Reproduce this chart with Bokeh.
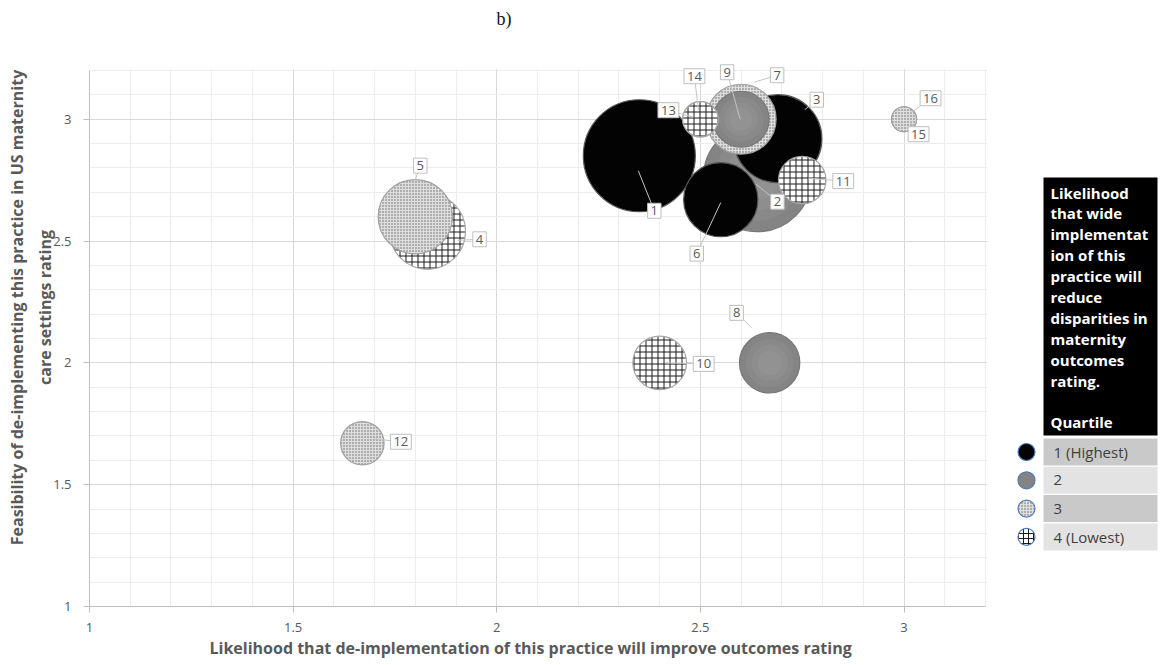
import numpy as np
from bokeh.plotting import figure
from bokeh.models import Range1d, FixedTicker, Label, ColumnDataSource, Title
from bokeh.embed import file_html
from bokeh.resources import INLINE
from bokeh.core.properties import value

# ---------------- data ----------------
practice_ids = [str(i) for i in range(1, 17)]
improve_rating = [2.35, 2.64, 2.69, 1.83, 1.80, 2.55, 2.60, 2.67, 2.60, 2.40, 2.75, 1.67, 2.50, 2.50, 3.00, 3.00]
feasibility_rating = [2.85, 2.76, 2.92, 2.54, 2.60, 2.67, 3.00, 2.00, 3.00, 2.00, 2.75, 1.67, 3.00, 3.00, 3.00, 3.00]
bubble_value = [100, 93, 62, 46, 44, 44, 39, 29, 25, 23, 18, 15, 10, 10, 5, 5]
disparity_quartile = [1, 2, 1, 4, 3, 1, 3, 2, 2, 4, 4, 3, 4, 4, 3, 3]
quartile_labels = ["1 (Highest)", "2", "3", "4 (Lowest)"]
x_ticks = [1, 1.5, 2, 2.5, 3]
x_tick_labels = ["1", "1.5", "2", "2.5", "3"]
y_ticks = [1, 1.5, 2, 2.5, 3]
y_tick_labels = ["1", "1.5", "2", "2.5", "3"]
legend_title_lines = ["Likelihood", "that wide", "implementat", "ion of this", "practice will",
                      "reduce", "disparities in", "maternity", "outcomes", "rating.", "", "Quartile"]
x_title = "Likelihood that de-implementation of this practice will improve outcomes rating"
y_title = "Feasibility of de-implementing this practice in US maternity\ncare settings rating"
panel_title = "b)"

# ---------------- layout / style ----------------
FONT = "Open Sans"
GREY_TXT = "#595959"
FIG_W, FIG_H = 1160, 662
LEFT = 89                 # page x of the plotting area's left edge
FRAME_TOP = 8             # page y where the (extended) frame starts
PLOT_TOP, PLOT_BOTTOM = 70, 606
X0, X1, Y0, Y1 = 1.0, 3.2, 1.0, 3.2
PPX = 896 / (X1 - X0)
PPY = (PLOT_BOTTOM - PLOT_TOP) / (Y1 - Y0)
XMAX = X0 + (FIG_W - LEFT) / PPX                 # frame continues under the legend panel
YMAX = Y1 + (PLOT_TOP - FRAME_TOP) / PPY         # and up into the caption zone
MAX_RADIUS_PX = 56


def page_x(px):
    return X0 + (px - LEFT) / PPX


def page_y(py):
    return Y1 - (py - PLOT_TOP) / PPY


# data-label placement in screen pixels (right / down) relative to bubble centre
label_dx = [15, 20, 39, 52, 5, -24, 36, -33, -14, 44, 41, 38.5, -32, -6, 14.5, 26.5]
label_dy = [55, 24, -39, 8, -51, 54, -44, -50, -47, 1, 1, -1.5, -9, -43, 15, -21]
lead_dx = [-1, -2, 27, 30, 0, 0, 13, -18, -1, 6, 6, 11.5, -7, -2, 6.5, 6.5]
lead_dy = [15, 6, -29, 9, -37, 3, -37, -35, 0, 0, -2, -4.5, -2, -9, 3, -6]

Q_STYLE = {
    1: dict(fill="#030303", hatch=" ", hcolor="#000000", hscale=6, line="#555555"),
    2: dict(fill="#848484", hatch=" ", hcolor="#000000", hscale=6, line="#777777"),
    3: dict(fill="#dedede", hatch="dot", hcolor="#666666", hscale=3, line="#a0a0a0"),
    4: dict(fill="#ffffff", hatch="cross", hcolor="#1a1a1a", hscale=6, line="#a6a6a6"),
}

p = figure(width=FIG_W, height=FIG_H, x_range=Range1d(X0, XMAX), y_range=Range1d(Y0, YMAX),
           output_backend="svg", toolbar_location=None,
           min_border_left=LEFT, min_border_right=0, min_border_top=FRAME_TOP,
           min_border_bottom=FIG_H - PLOT_BOTTOM)
p.outline_line_color = None
p.background_fill_color = "white"
p.border_fill_color = "white"

minor = [float(v) for v in np.round(np.arange(1.0, 3.2001, 0.1), 1)]
for ax, ticks, labels, bnd in ((p.xaxis[0], x_ticks, x_tick_labels, (X0, X1)),
                               (p.yaxis[0], y_ticks, y_tick_labels, (Y0, Y1))):
    ax.ticker = FixedTicker(ticks=ticks, minor_ticks=minor)
    ax.major_label_overrides = dict(zip(ticks, labels))
    ax.bounds = bnd
    ax.minor_tick_line_color = None
    ax.major_tick_in = 0
    ax.major_tick_out = 6
    ax.axis_line_color = "#bfbfbf"
    ax.major_tick_line_color = "#bfbfbf"
    ax.major_label_text_font = FONT
    ax.major_label_text_font_size = "13px"
    ax.major_label_text_color = GREY_TXT
    ax.axis_label_text_font = FONT
    ax.axis_label_text_font_size = "16px"
    ax.axis_label_text_font_style = "bold"
    ax.axis_label_text_color = GREY_TXT

p.xaxis.major_label_standoff = 10
p.yaxis.axis_label = y_title
p.yaxis.major_label_standoff = 12
p.yaxis.axis_label_standoff = -6
p.yaxis.axis_label_text_line_height = 1.3

p.add_layout(Title(text=x_title, align="left", offset=120, standoff=0,
                   text_font=FONT, text_font_size="16px", text_font_style="bold",
                   text_color=GREY_TXT), "below")

for g in (p.xgrid[0], p.ygrid[0]):
    g.grid_line_color = "#d9d9d9"
    g.minor_grid_line_color = "#ededed"

# white panels hiding the grid outside the plotting area (legend zone, caption zone)
p.quad(left=[X1 + 1.5 / PPX, X0], right=[XMAX, XMAX], bottom=[Y0, Y1 + 1.5 / PPY], top=[YMAX, YMAX],
       fill_color="white", line_color=None)

# panel caption
p.text(x=[page_x(496)], y=[page_y(18)], text=[panel_title], text_font=value("Liberation Serif"),
       text_font_size="18px", text_color="#111111", text_align="left", text_baseline="middle")

# bubbles, larger first so smaller ones are on top
order = sorted(range(len(practice_ids)), key=lambda i: -bubble_value[i])
diam = [2 * MAX_RADIUS_PX * np.sqrt(bubble_value[i] / max(bubble_value)) for i in order]
src = ColumnDataSource(dict(
    x=[improve_rating[i] for i in order],
    y=[feasibility_rating[i] for i in order],
    size=diam,
    fill=[Q_STYLE[disparity_quartile[i]]["fill"] for i in order],
    hatch=[Q_STYLE[disparity_quartile[i]]["hatch"] for i in order],
    hcolor=[Q_STYLE[disparity_quartile[i]]["hcolor"] for i in order],
    hscale=[Q_STYLE[disparity_quartile[i]]["hscale"] for i in order],
    line=[Q_STYLE[disparity_quartile[i]]["line"] for i in order],
    q=[disparity_quartile[i] for i in order],
))
for k in range(len(order)):
    one = ColumnDataSource({key: [vals[k]] for key, vals in src.data.items()})
    p.scatter("x", "y", size="size", marker="circle", source=one,
              fill_color="fill", hatch_pattern="hatch", hatch_color="hcolor",
              hatch_scale="hscale", hatch_weight=1, line_color="line", line_width=1.2)
    if one.data["q"][0] == 2:   # soft radial shading of the grey bubbles
        for frac in (0.8, 0.6, 0.4):
            p.scatter("x", "y", size=one.data["size"][0] * frac, marker="circle", source=one,
                      fill_color="white", fill_alpha=0.045, line_color=None)

# leader lines and data labels
n_pts = len(practice_ids)
lx = [improve_rating[i] + label_dx[i] / PPX for i in range(n_pts)]
ly = [feasibility_rating[i] - label_dy[i] / PPY for i in range(n_pts)]
sx = [improve_rating[i] + lead_dx[i] / PPX for i in range(n_pts)]
sy = [feasibility_rating[i] - lead_dy[i] / PPY for i in range(n_pts)]
p.segment(x0=sx, y0=sy, x1=lx, y1=ly, line_color="#c4c4c4", line_width=1)
for i in range(n_pts):
    p.add_layout(Label(x=lx[i], y=ly[i], text=practice_ids[i], text_align="center",
                       text_baseline="middle", text_font=FONT, text_font_size="13px",
                       text_color=GREY_TXT, background_fill_color="white",
                       border_line_color="#bfbfbf", border_line_width=1, padding=3))

# ---------------- legend (page-pixel layout converted to data space) ----------------
BOX_L, BOX_R = 1043, 1157
p.quad(left=[page_x(BOX_L)], right=[page_x(BOX_R)], top=[page_y(177)], bottom=[page_y(435)],
       fill_color="black", line_color=None)
n = len(legend_title_lines)
p.text(x=[page_x(1050)] * n, y=[page_y(192 + 20.9 * k) for k in range(n)], text=legend_title_lines,
       text_color="white", text_font=value(FONT), text_font_style="bold",
       text_font_size="15px", text_baseline="middle", text_align="left")
nq = len(quartile_labels)
row_top = [438 + 28.3 * k for k in range(nq)]
row_mid = [t + 13.5 for t in row_top]
p.quad(left=[page_x(BOX_L)] * nq, right=[page_x(BOX_R)] * nq,
       top=[page_y(t) for t in row_top], bottom=[page_y(t + 27) for t in row_top],
       fill_color=["#c9c9c9", "#e3e3e3", "#c9c9c9", "#e3e3e3"], line_color=None)
p.text(x=[page_x(1053)] * nq, y=[page_y(m) for m in row_mid], text=quartile_labels,
       text_color="#404040", text_font=value(FONT), text_font_size="15px",
       text_baseline="middle", text_align="left")
qs = [1, 2, 3, 4]
p.scatter(x=[page_x(1026)] * nq, y=[page_y(m) for m in row_mid], size=17, marker="circle",
          fill_color=[Q_STYLE[q]["fill"] for q in qs],
          hatch_pattern=[Q_STYLE[q]["hatch"] for q in qs],
          hatch_color=[Q_STYLE[q]["hcolor"] for q in qs],
          hatch_scale=[min(Q_STYLE[q]["hscale"], 5) for q in qs],
          hatch_weight=1, line_color="#4f7cb3", line_width=1.2)

open("out.html", "w").write(file_html(p, INLINE))
